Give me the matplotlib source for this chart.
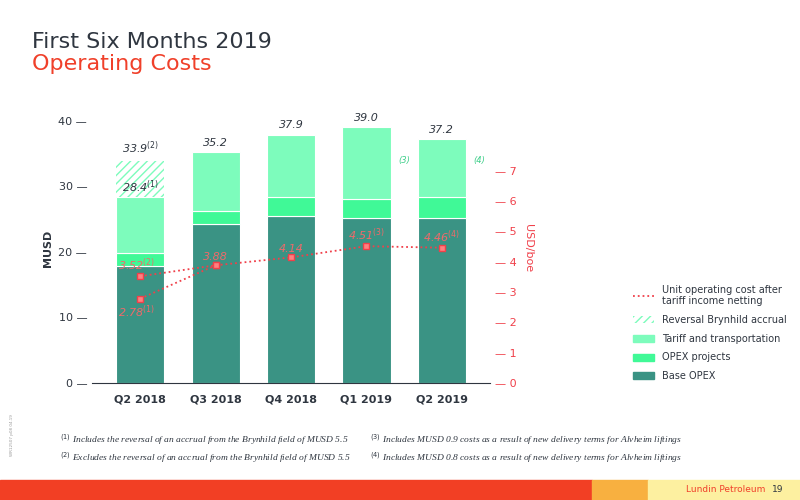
import numpy as np
import matplotlib.pyplot as plt
from matplotlib.patches import Patch
from matplotlib.lines import Line2D

quarters = ['Q2 2018', 'Q3 2018', 'Q4 2018', 'Q1 2019', 'Q2 2019']
base_opex = [17.9, 24.3, 25.5, 25.2, 25.2]
opex_projects = [1.9, 2.0, 2.9, 2.9, 3.2]
tariff = [8.6, 8.9, 9.5, 10.9, 8.8]
reversal = [5.5, 0, 0, 0, 0]
totals = ['33.9', '35.2', '37.9', '39.0', '37.2']
unit_cost = [3.52, 3.88, 4.14, 4.51, 4.46]
unit_cost_labels = ['3.52', '3.88', '4.14', '4.51', '4.46']
unit_cost_notes = ['(2)', '', '', '(3)', '(4)']
q2_2018_incl = 2.78

c_base = '#3a9384'
c_proj = '#40f997'
c_tariff = '#7dfcbc'
c_red = '#f0404a'
c_text = '#2f3640'

fig = plt.figure(figsize=(8, 5), dpi=100)
fig.patch.set_facecolor('white')
ax = fig.add_axes([0.115, 0.234, 0.4975, 0.54])
x = np.arange(len(quarters))
w = 0.64
b1 = np.array(base_opex)
b2 = b1 + np.array(opex_projects)
b3 = b2 + np.array(tariff)
ax.bar(x, base_opex, w, color=c_base, edgecolor='white', lw=0.8)
ax.bar(x, opex_projects, w, bottom=b1, color=c_proj, edgecolor='white', lw=0.8)
ax.bar(x, tariff, w, bottom=b2, color=c_tariff, edgecolor='white', lw=0.8)
ax.bar(x, reversal, w, bottom=b3, color='white', edgecolor=c_tariff, hatch='////', lw=0)
ax.set_xlim(-0.64, 4.64)
ax.set_ylim(0, 41.2)
ax.set_yticks([0, 10, 20, 30, 40])
ax.set_yticklabels(['0 —', '10 —', '20 —', '30 —', '40 —'])
ax.tick_params(axis='y', length=0, labelsize=8, colors=c_text)
ax.tick_params(axis='x', length=0, labelsize=8, colors=c_text, pad=8)
ax.set_xticks(x)
ax.set_xticklabels(quarters, fontweight='bold')
for s in ['top', 'right', 'left']:
    ax.spines[s].set_visible(False)
ax.spines['bottom'].set_color(c_text)
ax.set_ylabel('MUSD', fontsize=8, fontweight='bold', color=c_text)

tops = b3 + np.array(reversal)
for i in range(len(quarters)):
    t = totals[i] + (r'$^{(2)}$' if i == 0 else '')
    ax.text(x[i], tops[i] + 0.7, t, ha='center', va='bottom', fontsize=8, style='italic', color=c_text)
ax.text(x[0], b3[0] + 0.3, r'28.4$^{(1)}$', ha='center', va='bottom', fontsize=8, style='italic', color=c_text)
ax.text(x[3] + 0.42, 33.5, '(3)', fontsize=6, color='#3ecf8a', style='italic')
ax.text(x[4] + 0.42, 33.5, '(4)', fontsize=6, color='#3ecf8a', style='italic')

ax2 = ax.twinx()
ax2.set_ylim(0, 8.9)
ax2.set_yticks(range(8))
ax2.set_yticklabels(['— ' + str(v) for v in range(8)])
ax2.tick_params(axis='y', length=0, labelsize=8, colors=c_red)
for s in ax2.spines.values():
    s.set_visible(False)
ax2.set_ylabel('USD/boe', color=c_red, fontsize=8, rotation=270, labelpad=12)
ax2.plot(x, unit_cost, ls=':', color=c_red, lw=1.3, marker='s', ms=4,
         mfc='#ff8080', mec=c_red)
ax2.plot([x[0], x[1]], [q2_2018_incl, unit_cost[1]], ls=':', color=c_red, lw=1.3,
         marker='s', ms=4, mfc='#ff8080', mec=c_red)
for i in range(len(quarters)):
    lab = unit_cost_labels[i] + (r'$^{%s}$' % unit_cost_notes[i] if unit_cost_notes[i] else '')
    ax2.text(x[i] - 0.05 if i == 0 else x[i], unit_cost[i] + 0.1, lab, ha='center', va='bottom',
             fontsize=8, style='italic', color='#f06a6a')
ax2.text(x[0] - 0.05, q2_2018_incl - 0.15, r'2.78$^{(1)}$', ha='center', va='top',
         fontsize=8, style='italic', color='#f06a6a')

handles = [Line2D([], [], ls=':', color=c_red, lw=1.3),
           Patch(facecolor='white', edgecolor=c_tariff, hatch='////', lw=0),
           Patch(color=c_tariff), Patch(color=c_proj), Patch(color=c_base)]
labels = ['Unit operating cost after\ntariff income netting', 'Reversal Brynhild accrual',
          'Tariff and transportation', 'OPEX projects', 'Base OPEX']
fig.legend(handles, labels, loc='lower left', bbox_to_anchor=(0.78, 0.22), frameon=False,
           fontsize=7, handlelength=2.2, labelspacing=0.9, labelcolor=c_text,
           prop={'family': 'DejaVu Sans', 'size': 7})

fig.text(0.04, 0.905, 'First Six Months 2019', fontsize=16, color=c_text)
fig.text(0.04, 0.86, 'Operating Costs', fontsize=16, color='#f0402a')

fn = 'Liberation Serif'
notes_left = [r'$^{(1)}$ Includes the reversal of an accrual from the Brynhild field of MUSD 5.5',
              r'$^{(2)}$ Excludes the reversal of an accrual from the Brynhild field of MUSD 5.5']
notes_right = [r'$^{(3)}$ Includes MUSD 0.9 costs as a result of new delivery terms for Alvheim liftings',
               r'$^{(4)}$ Includes MUSD 0.8 costs as a result of new delivery terms for Alvheim liftings']
for k, (a, b) in enumerate(zip(notes_left, notes_right)):
    yy = 0.115 - 0.037 * k
    fig.text(0.075, yy, a, fontsize=6.8, style='italic', family=fn, color=c_text)
    fig.text(0.463, yy, b, fontsize=6.8, style='italic', family=fn, color=c_text)
fig.text(0.012, 0.09, 'WR12507 p08 04.19', fontsize=3, rotation=90, color='#999999')

fig.patches.append(plt.Rectangle((0, 0), 0.74, 0.04, transform=fig.transFigure, color='#f23f24'))
fig.patches.append(plt.Rectangle((0.74, 0), 0.07, 0.04, transform=fig.transFigure, color='#f8b040'))
fig.patches.append(plt.Rectangle((0.81, 0), 0.19, 0.04, transform=fig.transFigure, color='#fdf0a0'))
fig.text(0.858, 0.02, 'Lundin Petroleum', fontsize=6.5, color='#f0402a', va='center')
fig.text(0.965, 0.02, '19', fontsize=6.5, color=c_text, va='center')

fig.savefig('out.png', dpi=100)
